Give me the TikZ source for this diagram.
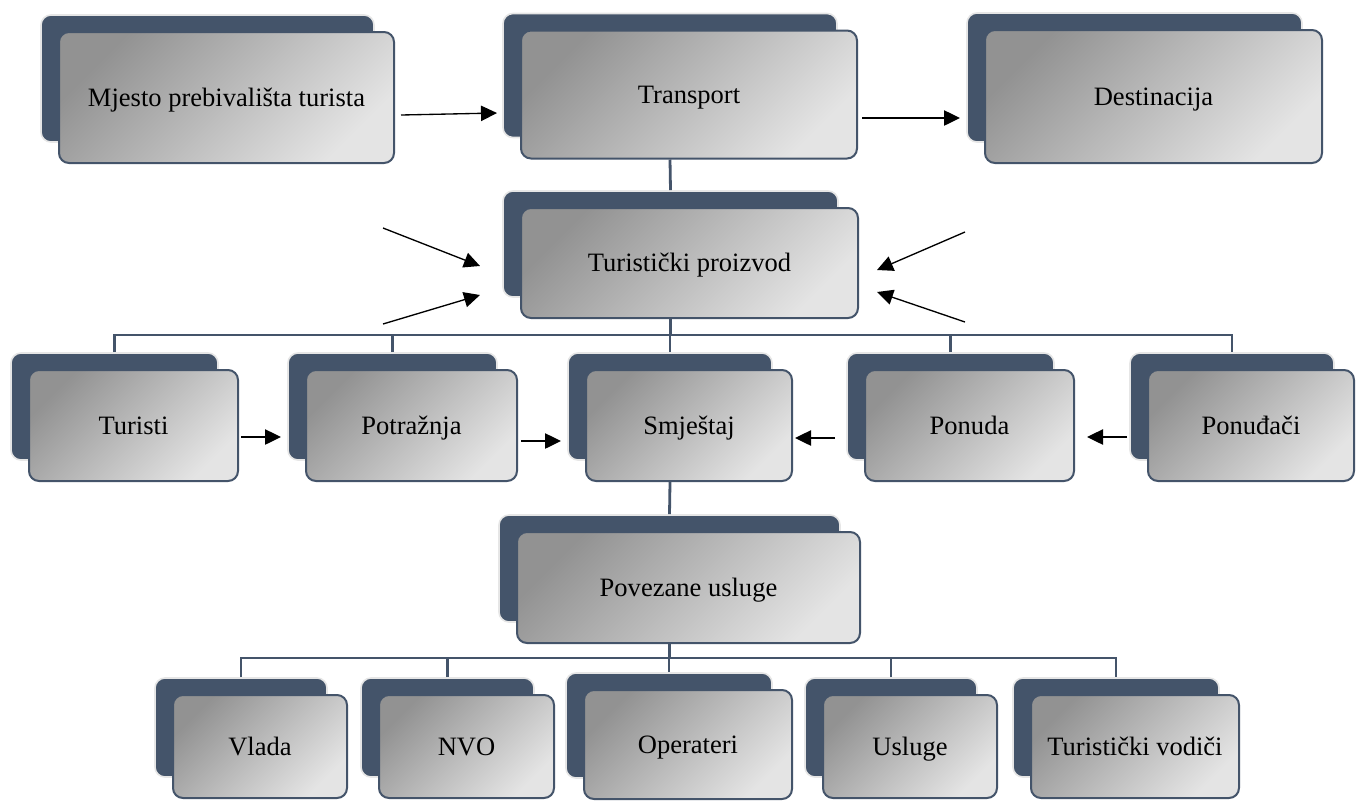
\documentclass[tikz,border=0pt]{standalone}
\usepackage{fontspec}
\setmainfont{Liberation Serif}
\usetikzlibrary{arrows.meta,calc}
\definecolor{dk}{HTML}{44546A}
\definecolor{gA}{HTML}{929292}
\definecolor{gB}{HTML}{E4E4E4}
\definecolor{rim}{HTML}{E6E6E6}
\tikzset{
 backbox/.style={fill=dk, draw=rim, line width=1.2pt, rounded corners=7.5pt, inner sep=0pt},
 frontbox/.style={draw=dk, line width=1.5pt, rounded corners=7.5pt, top color=gA, bottom color=gB, shading angle=45, inner sep=0pt, font=\fontsize{19.9}{24}\selectfont, text height=13.2pt, text depth=0pt, align=center},
 tree/.style={draw=dk, line width=2.1pt},
 arr/.style={draw=black, line width=1pt, -{Triangle[length=12pt,width=11.5pt]}},
}
\newcommand\dbox[6]{%
  \pgfmathsetmacro\bw{(#4-2)*0.75}\pgfmathsetmacro\bh{(#5-4)*0.75}%
  \pgfmathsetmacro\fw{#4*0.75}\pgfmathsetmacro\fh{#5*0.75}%
  \node[backbox, minimum width=\bw pt, minimum height=\bh pt] (#1b) at ($(#2,#3)+(-19,-19)$) {};
  \node[frontbox, minimum width=\fw pt, minimum height=\fh pt] (#1) at (#2,#3) {#6};
}
\begin{document}
\begin{tikzpicture}[x=0.75pt,y=-0.75pt]
\fill[white] (0,0) rectangle (1356,801);
\useasboundingbox (0,0) rectangle (1356,801);
% top row
\dbox{m}{226.5}{97.5}{335}{131}{Mjesto prebivališta turista}
\dbox{t}{689}{94.5}{336}{128}{Transport}
\dbox{d}{1153.5}{96.5}{337}{133}{Destinacija}
\dbox{tp}{689.5}{263}{337}{110}{Turistički proizvod}
% row 3
\dbox{tur}{133.5}{425.5}{209}{111}{Turisti}
\dbox{pot}{411.5}{425.5}{211}{111}{Potražnja}
\dbox{sm}{689}{425.5}{206}{111}{Smještaj}
\dbox{pon}{969.5}{425.5}{209}{111}{Ponuda}
\dbox{pc}{1251}{425.5}{206}{111}{Ponuđači}
% row 4
\dbox{pv}{688.5}{587.5}{343}{111}{Povezane usluge}
% row 5
\dbox{vl}{260}{746.5}{174}{103}{Vlada}
\dbox{nv}{466.5}{746.5}{175}{103}{NVO}
\dbox{op}{688}{744.5}{208}{109}{Operateri}
\dbox{us}{910}{746.5}{174}{103}{Usluge}
\dbox{tv}{1135}{746.5}{208}{103}{Turistički vodiči}
% tree lines
\coordinate (bus1) at (669,335);
\coordinate (bus2) at (669,658);
\draw[tree] (tb.south |- t.south) -- (tpb.north);
\draw[tree] (tpb.south |- tp.south) -- (tpb.south |- bus1);
\draw[tree] (turb.north) -- (turb.north |- bus1) -- (pcb.north |- bus1) -- (pcb.north);
\foreach \n in {potb,smb,ponb} \draw[tree] (\n.north) -- (\n.north |- bus1);
\draw[tree] (smb.south |- sm.south) -- (pvb.north);
\draw[tree] (pvb.south |- pv.south) -- (pvb.south |- bus2);
\draw[tree] (vlb.north) -- (vlb.north |- bus2) -- (tvb.north |- bus2) -- (tvb.north);
\foreach \n in {nvb,opb,usb} \draw[tree] (\n.north) -- (\n.north |- bus2);
% arrows
\draw[arr] ($(m.east)+(6,17.5)$) -- ($(t.west)+(-23,18.5)$);
\draw[arr] ($(t.east)+(4,23.5)$) -- ($(d.west)+(-24,21.5)$);
\coordinate (c1) at (383,228);
\coordinate (c2) at (383,324);
\coordinate (c3) at (965,232);
\coordinate (c4) at (965,322);
\draw[arr] (c1) -- ($(tp.west)+(-40,3)$);
\draw[arr] (c2) -- ($(tp.west)+(-40,32)$);
\draw[arr] (c3) -- ($(tp.east)+(18,7)$);
\draw[arr] (c4) -- ($(tp.east)+(18,29)$);
\draw[arr] ($(tur.east)+(2,11.5)$) -- ($(pot.west)+(-24,11.5)$);
\draw[arr] ($(pot.east)+(3,15.5)$) -- ($(sm.west)+(-24,15.5)$);
\draw[arr] ($(pon.west)+(-29,12.5)$) -- ($(sm.east)+(2,12.5)$);
\draw[arr] ($(pc.west)+(-20,11.5)$) -- ($(pon.east)+(12,11.5)$);
\end{tikzpicture}
\end{document}
